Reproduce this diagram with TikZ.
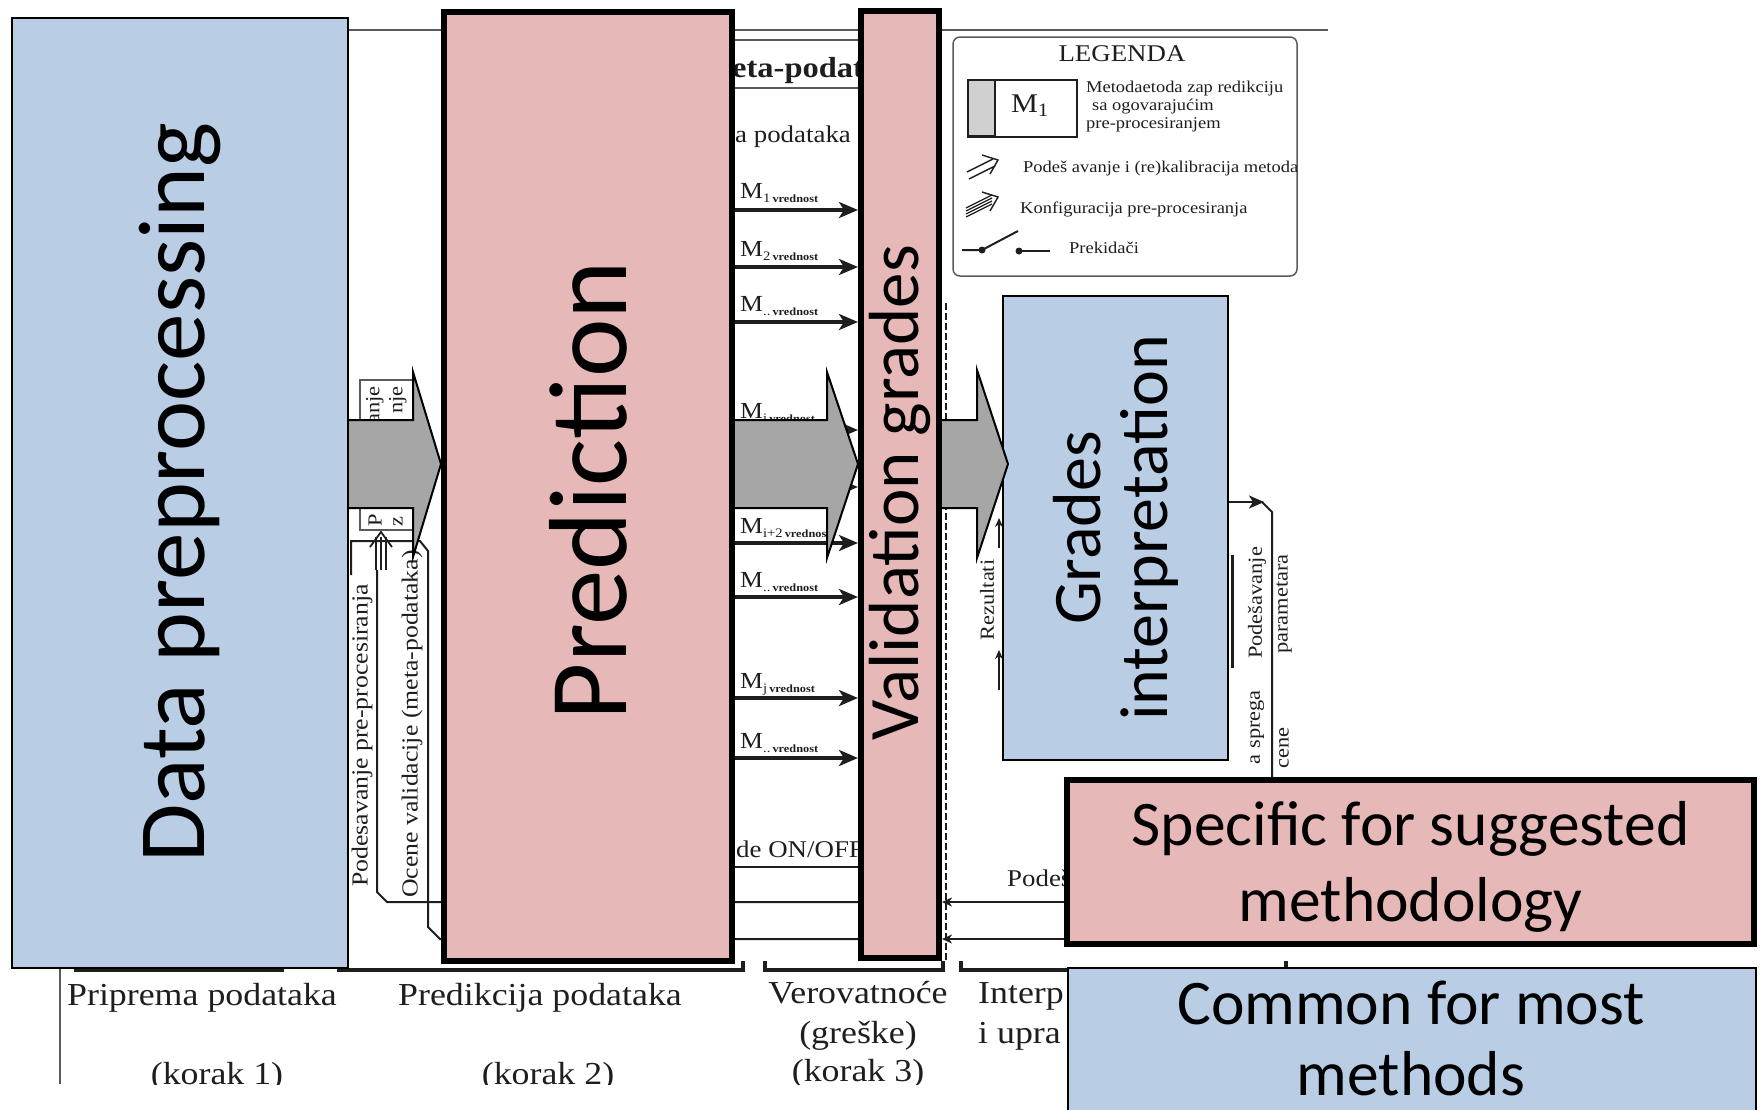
\documentclass[tikz,border=0pt]{standalone}
\usepackage{fontspec}
\setmainfont{Liberation Serif}
\newfontfamily\boxfont{Carlito}
\newfontfamily\scanfont[FakeStretch=1.12]{Liberation Serif}
\usetikzlibrary{arrows.meta}
\pgfdeclarelayer{scan}
\pgfdeclarelayer{front}
\pgfsetlayers{scan,main,front}

\definecolor{commonblue}{HTML}{B9CDE5}
\definecolor{specpink}{HTML}{E6B8B7}
\definecolor{blockgray}{HTML}{A6A6A6}
\definecolor{ink}{HTML}{1E1E1E}
\definecolor{rule}{HTML}{5A5A5A}
\definecolor{keygray}{HTML}{D0D0D0}

\newcommand\sz[2]{\fontsize{#1}{#2}\selectfont}
\newcommand\dd{..}
\newcommand\mval[1]{M\raisebox{-4pt}{\sz{13}{14}#1\,\sz{11}{12}\bfseries vrednost}}

\begin{document}
% The stage boxes are rotated by 90 degrees, so their left side is the
% "north" anchor and their right side is the "south" anchor.
\begin{tikzpicture}[x=1pt,y=-1pt,
  scanrule/.style={draw=rule, line width=2pt},
  scanwire/.style={draw=ink, line width=2pt},
  mline/.style={draw=ink, line width=3.5pt, -{Stealth[length=19pt,width=16pt,inset=5pt]}},
  backarrow/.style={draw=ink, line width=2.2pt, -{Stealth[length=10pt,width=9pt,inset=3pt]}},
  scantext/.style={inner sep=0pt, text=ink, font=\scanfont\sz{24}{27}},
  mlabel/.style={inner sep=0pt, text=ink, font=\scanfont\sz{23}{26}, anchor=base west},
  smalltext/.style={inner sep=0pt, text=ink, font=\scanfont\sz{20}{22}},
  sidetext/.style={inner sep=0pt, text=ink, font=\scanfont\sz{23}{25}},
  keytext/.style={inner sep=0pt, text=ink, font=\scanfont\sz{16.5}{19}, anchor=base west},
  steptext/.style={inner sep=0pt, text=ink, font=\scanfont\sz{32}{36}, anchor=base},
  bracket/.style={draw=ink, line width=4pt},
  blockedge/.style={draw=black, line width=2pt, line join=miter},
  commonbox/.style={draw=black, line width=2pt, fill=commonblue, inner sep=0pt},
  specbox/.style={draw=black, line width=6pt, fill=specpink, inner sep=0pt},
]
\useasboundingbox (0,0) rectangle (1760,1109);

% ---------- the four stages ----------
\node[commonbox, rotate=90, minimum width=950pt, minimum height=336pt,
      font=\boxfont\sz{95}{114}] (dp) at (180,493) {Data preprocessing};
\node[specbox, rotate=90, minimum width=949pt, minimum height=288pt,
      font=\boxfont\sz{111}{130}] (pred) at (588,486.5) {Prediction\hspace*{8pt}};
\node[specbox, rotate=90, minimum width=947pt, minimum height=78pt,
      font=\boxfont\sz{71}{80}] (valid) at (900,484.5) {Validation grades\hspace*{16pt}};
\node[commonbox, rotate=90, minimum width=464pt, minimum height=225pt, align=center,
      font=\boxfont\sz{68}{67}] (interp) at (1115.5,528) {Grades\\interpretation};

% ---------- key boxes ----------
\begin{pgfonlayer}{front}
\node[specbox, minimum width=687pt, minimum height=164pt] (spec) at (1410.5,862) {};
\node[inner sep=0pt, align=center, font=\boxfont\sz{63.5}{76}] (spectext) at (1410.5,866.5) {Specific for suggested\\methodology};
\node[commonbox, minimum width=688pt, minimum height=170pt] (common) at (1412,1053) {};
\node[inner sep=0pt, align=center, font=\boxfont\sz{63.5}{71}] (commontext) at (1411,1038) {Common for most\\methods};
% block arrow into the interpretation stage
\fill[blockgray] (valid.south |- 0,420) -- (977,420) -- (977,370) -- (1008,464)
      -- (977,558) -- (977,508) -- (valid.south |- 0,508) -- cycle;
\draw[blockedge] (valid.south |- 0,420) -- (977,420) -- (977,370) -- (1008,464)
      -- (977,558) -- (977,508) -- (valid.south |- 0,508);
\end{pgfonlayer}

% ---------- underlying process scheme ----------
\begin{pgfonlayer}{scan}
% frame and header
\draw[scanrule] (dp.south |- 0,30) -- (1328,30);
\draw[scanrule] (pred.south |- 0,40) -- (valid.north |- 0,40);
\draw[scanrule] (pred.south |- 0,88) -- (valid.north |- 0,88);
\node[inner sep=0pt, text=ink, font=\scanfont\bfseries\sz{29}{32}, anchor=base west] (hdr) at (732,77) {eta-podat};
\node[scantext, anchor=base west] (subhdr) at (735,142) {a podataka};

% method outputs
\foreach \yy in {210,267,322,430,487,543,597,698,758}
  \draw[mline] (pred.south |- 0,\yy) -- (valid.north |- 0,\yy);
\foreach \yy/\sub [count=\k] in {198/1,256/2,311/\dd,418/i,533/{i+2},587/\dd,688/j,748/\dd}
  \node[mlabel] (mlab\k) at (740,\yy) {\mval{\sub}};

\node[scantext, anchor=base west] (onoff) at (736,857) {de ON/OFF};
\draw[scanwire] (pred.south |- 0,867) -- (valid.north |- 0,867);

% feedback wires
\draw[scanwire] (valid.north |- 0,902) -- (387,902) -- (377,892) -- (377,570);
\draw[scanwire] (valid.north |- 0,939) -- (440,939) -- (428,927) -- (428,551) -- (420,541)
      -- (351,541) -- (351,575);
\draw[backarrow] (spec.west |- 0,902) -- (valid.south |- 0,902);
\draw[backarrow] (spec.west |- 0,939) -- (valid.south |- 0,939);
\node[scantext, anchor=base west] (podes) at (1007,886) {Podeš};
\draw[draw=ink, line width=1.5pt, dash pattern=on 7pt off 3pt] (946,303) -- (946,960);

% pre-processing configuration on the left
\draw[draw=rule, line width=1.5pt] (360,380) rectangle (414,530);
\node[smalltext, rotate=90, anchor=east] (cfga) at (375,386) {anje};
\node[smalltext, rotate=90, anchor=east] (cfgb) at (398,386) {nje};
\node[smalltext, rotate=90, anchor=west] (cfgc) at (375,527) {P};
\node[smalltext, rotate=90, anchor=west] (cfgd) at (398,527) {z};
\foreach \xx in {376,381,386}
  \draw[draw=ink, line width=1.6pt] (\xx,570) -- (\xx,537);
\draw[draw=ink, line width=1.8pt] (370,547) -- (381,532) -- (392,547);
\node[sidetext, rotate=90, anchor=west] (tunepre) at (362,887) {Podesavanje pre-procesiranja};
\node[sidetext, rotate=90, anchor=west] (valmeta) at (412,898) {Ocene validacije (meta-podataka)};

% interpretation side
\draw[scanwire] (1262,502) -- (1272,512) -- (1272,790);
\draw[draw=ink, line width=2.5pt, -{Stealth[length=15pt,width=13pt,inset=4pt]}] (interp.south |- 0,502) -- (1264,502);
\draw[draw=ink, line width=3pt] (1232,555) -- (1232,668);
\node[smalltext, rotate=90] (tunepar) at (1257,603) {Podešavanje};
\node[smalltext, rotate=90] (param) at (1284,604) {parametara};
\node[smalltext, rotate=90, anchor=east] (spreg) at (1257,690) {a sprega};
\node[smalltext, rotate=90, anchor=east] (ocen) at (1284,727) {cene};
\node[smalltext, rotate=90] (rez) at (987,600) {Rezultati};
\draw[draw=ink, line width=2pt, -{Stealth[length=9pt,width=8pt]}] (999,690) -- (999,650);
\draw[draw=ink, line width=2pt, -{Stealth[length=9pt,width=8pt]}] (999,548) -- (999,518);

% legend
\draw[draw=rule, line width=1.5pt, rounded corners=7pt] (953,37) rectangle (1297,276);
\node[inner sep=0pt, text=ink, font=\scanfont\sz{24}{26}, anchor=base] (legtitle) at (1122,61) {LEGENDA};
\fill[keygray] (968,80) rectangle (995,137);
\draw[draw=ink, line width=1.5pt] (968,80) rectangle (1077,137);
\draw[draw=ink, line width=1.5pt] (995,80) -- (995,137);
\draw[draw=ink, line width=3pt] (968,136) -- (995,136);
\node[inner sep=0pt, text=ink, font=\scanfont\sz{27}{29}] (keym) at (1030,106) {M\textsubscript{1}};
\node[keytext] (key1) at (1086,92) {Metodaetoda zap redikciju};
\node[keytext] (key2) at (1092,110) {sa ogovarajućim};
\node[keytext] (key3) at (1086,128) {pre-procesiranjem};
\draw[draw=ink, line width=1.4pt] (967,172) -- (993,159) (969,179) -- (995,166);
\draw[draw=ink, line width=1.4pt] (982,155) -- (998,160) -- (990,174);
\node[keytext] (key4) at (1023,172) {Podeš avanje i (re)kalibracija metoda};
\foreach \dy in {0,3,6,9}
  \draw[draw=ink, line width=1.3pt] (966,208+\dy) -- (992,195+\dy);
\draw[draw=ink, line width=1.4pt] (982,192) -- (998,197) -- (990,211);
\node[keytext] (key5) at (1020,213) {Konfiguracija pre-procesiranja};
\draw[draw=ink, line width=2pt] (962,250) -- (982,250) -- (1018,231);
\draw[draw=ink, line width=2pt] (1019,251) -- (1050,251);
\fill[ink] (982,250) circle (3.5pt) (1019,251) circle (3.5pt);
\node[keytext] (key6) at (1069,253) {Prekidači};

% step brackets and captions
\draw[bracket] (74,970) -- (284,970);
\draw[bracket] (337,970) -- (743,970) -- (743,961);
\draw[bracket] (765,961) -- (765,970) -- (943,970) -- (943,961);
\draw[bracket] (961,961) -- (961,970) -- (1286,970) -- (1286,961);
\draw[draw=rule, line width=1.5pt] (60,968) -- (60,1084);
\begin{scope}
\clip (0,0) rectangle (1760,1084);
\node[steptext] (step1) at (202,1005) {Priprema podataka};
\node[steptext] (step1b) at (217,1084) {(korak 1)};
\node[steptext] (step2) at (540,1005) {Predikcija podataka};
\node[steptext] (step2b) at (548,1084) {(korak 2)};
\node[steptext] (step3) at (858,1003) {Verovatnoće};
\node[steptext] (step3b) at (858,1043) {(greške)};
\node[steptext] (step3c) at (858,1081) {(korak 3)};
\node[steptext, anchor=base west] (step4) at (978,1003) {Interp};
\node[steptext, anchor=base west] (step4b) at (978,1043) {i upra};
\end{scope}

% block arrows between the first stages
\fill[blockgray] (340,420) -- (413,420) -- (413,372) -- (pred.north |- 0,464)
      -- (413,557) -- (413,508) -- (340,508) -- cycle;
\draw[blockedge] (dp.south |- 0,420) -- (413,420) -- (413,372) -- (pred.north |- 0,464)
      -- (413,557) -- (413,508) -- (dp.south |- 0,508);
\fill[blockgray] (725,420) -- (827,420) -- (827,372) -- (valid.north |- 0,464)
      -- (827,558) -- (827,508) -- (725,508) -- cycle;
\draw[blockedge] (pred.south |- 0,420) -- (827,420) -- (827,372) -- (valid.north |- 0,464)
      -- (827,558) -- (827,508) -- (pred.south |- 0,508);
\end{pgfonlayer}
\end{tikzpicture}
\end{document}
